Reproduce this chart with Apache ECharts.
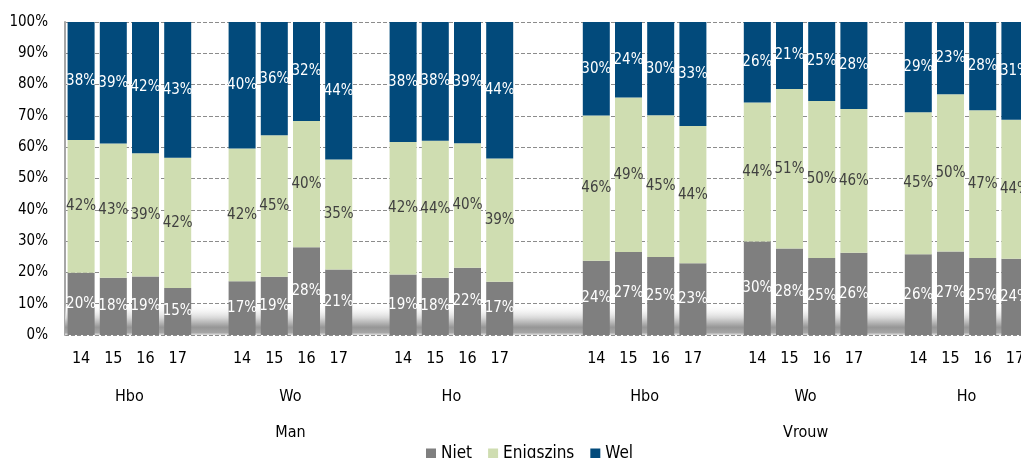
<!DOCTYPE html>
<html>
<head>
<meta charset="utf-8">
<script src="https://cdn.jsdelivr.net/npm/echarts@6/dist/echarts.min.js"></script>
<style>
html,body{margin:0;padding:0;background:#fff;}
#chart{width:1021px;height:458px;}
</style>
</head>
<body>
<div id="chart"></div>
<script>
// ---- data ----
const years = ['14', '15', '16', '17'];
const schools = ['Hbo', 'Wo', 'Ho'];
const genders = ['Man', 'Vrouw'];
const seriesNames = ['Niet', 'Enigszins', 'Wel'];
const yTicks = [0, 10, 20, 30, 40, 50, 60, 70, 80, 90, 100];

// order: Hbo 14-17, Wo 14-17, Ho 14-17
const nietMan      = [19.9, 18.3, 18.7, 15.0, 17.2, 18.6, 28.0, 20.9, 19.3, 18.3, 21.5, 17.0];
const enigszinsMan = [42.4, 42.9, 39.4, 41.6, 42.4, 45.2, 40.4, 35.2, 42.4, 43.8, 39.8, 39.4];
const welMan       = [37.7, 38.8, 41.9, 43.4, 40.4, 36.2, 31.6, 43.9, 38.3, 37.9, 38.7, 43.6];
const nietVrouw      = [23.7, 26.5, 24.9, 22.9, 29.9, 27.6, 24.6, 26.3, 25.8, 26.7, 24.6, 24.4];
const enigszinsVrouw = [46.4, 49.4, 45.3, 43.9, 44.4, 51.0, 50.2, 45.9, 45.4, 50.2, 47.2, 44.4];
const welVrouw       = [29.9, 24.1, 29.8, 33.2, 25.7, 21.4, 25.2, 27.8, 28.8, 23.1, 28.2, 31.2];

const valuesByGender = {
  Man: [nietMan, enigszinsMan, welMan],
  Vrouw: [nietVrouw, enigszinsVrouw, welVrouw]
};

// ---- build category slots ----
const cats = [];
const sData = [[], [], []];
const groupLabels = new Array(31).fill('');
const genderLabels = new Array(31).fill('');
let pos = 0;
function emptySlot() { cats.push(''); sData.forEach(a => a.push('-')); pos++; }
genders.forEach((g, gi) => {
  const start = pos;
  schools.forEach((s, si) => {
    groupLabels[pos + 2] = s;
    years.forEach((y, yi) => {
      const k = si * years.length + yi;
      cats.push(y);
      sData.forEach((a, j) => a.push(valuesByGender[g][j][k]));
      pos++;
    });
    if (si < schools.length - 1) emptySlot();
  });
  genderLabels[start + 7] = g;
  if (gi === 0) { emptySlot(); emptySlot(); }
});

const colors = ['#7f7f7f', '#cfddb1', '#024a7b'];
const labelColors = ['#ffffff', '#404040', '#ffffff'];
const axisFont = '"DejaVu Sans Condensed", "DejaVu Sans", sans-serif';
const labelFont = '"Liberation Sans Narrow", "DejaVu Sans Condensed", sans-serif';

const chart = echarts.init(document.getElementById('chart'), null, {renderer: 'canvas'});
const option = {
  animation: false,
  backgroundColor: '#ffffff',
  grid: {left: 65, right: -10, top: 22, bottom: 123, containLabel: false, outerBoundsMode: 'none'},
  legend: {
    data: seriesNames,
    left: 421, top: 440,
    icon: 'rect', itemWidth: 10, itemHeight: 10, itemGap: 16,
    textStyle: {fontFamily: axisFont, fontSize: 17, color: '#000'}
  },
  graphic: [{
    type: 'rect', z: 1, silent: true,
    shape: {x: 65, y: 304, width: 966, height: 31},
    style: {
      fill: new echarts.graphic.LinearGradient(0, 0, 0, 1, [
        {offset: 0, color: 'rgba(255,255,255,0)'},
        {offset: 0.45, color: 'rgba(215,215,215,1)'},
        {offset: 0.75, color: 'rgba(150,150,150,1)'},
        {offset: 0.92, color: 'rgba(165,165,165,1)'},
        {offset: 1, color: 'rgba(225,225,225,1)'}
      ])
    }
  }],
  xAxis: [
    {
      type: 'category', data: cats,
      axisLine: {show: false}, axisTick: {show: false}, splitLine: {show: false},
      axisLabel: {interval: 0, margin: 16, fontFamily: axisFont, fontSize: 16, color: '#000'}
    },
    {
      type: 'category', data: groupLabels, boundaryGap: false, position: 'bottom',
      axisLine: {show: false}, axisTick: {show: false}, splitLine: {show: false},
      axisLabel: {interval: 0, margin: 54, fontFamily: axisFont, fontSize: 16, color: '#000'}
    },
    {
      type: 'category', data: genderLabels, boundaryGap: false, position: 'bottom',
      axisLine: {show: false}, axisTick: {show: false}, splitLine: {show: false},
      axisLabel: {interval: 0, margin: 90, fontFamily: axisFont, fontSize: 16, color: '#000'}
    }
  ],
  yAxis: {
    type: 'value', min: yTicks[0], max: yTicks[yTicks.length - 1], interval: yTicks[1] - yTicks[0],
    axisLine: {show: true, lineStyle: {color: '#a6a6a6', width: 2}},
    axisTick: {show: false},
    axisLabel: {margin: 17, fontFamily: axisFont, fontSize: 15, color: '#000', formatter: '{value}%'},
    splitLine: {show: true, lineStyle: {color: '#8c8c8c', type: [4, 2], width: 1}}
  },
  series: seriesNames.map((name, j) => ({
    name: name, type: 'bar', stack: 'total', xAxisIndex: 0,
    data: sData[j], barWidth: 27, z: 2,
    itemStyle: {color: colors[j]},
    label: {
      show: true, position: 'inside',
      fontFamily: labelFont, fontSize: 15, color: labelColors[j],
      formatter: p => Math.round(p.value) + '%'
    }
  }))
};
chart.setOption(option);
</script>
</body>
</html>
